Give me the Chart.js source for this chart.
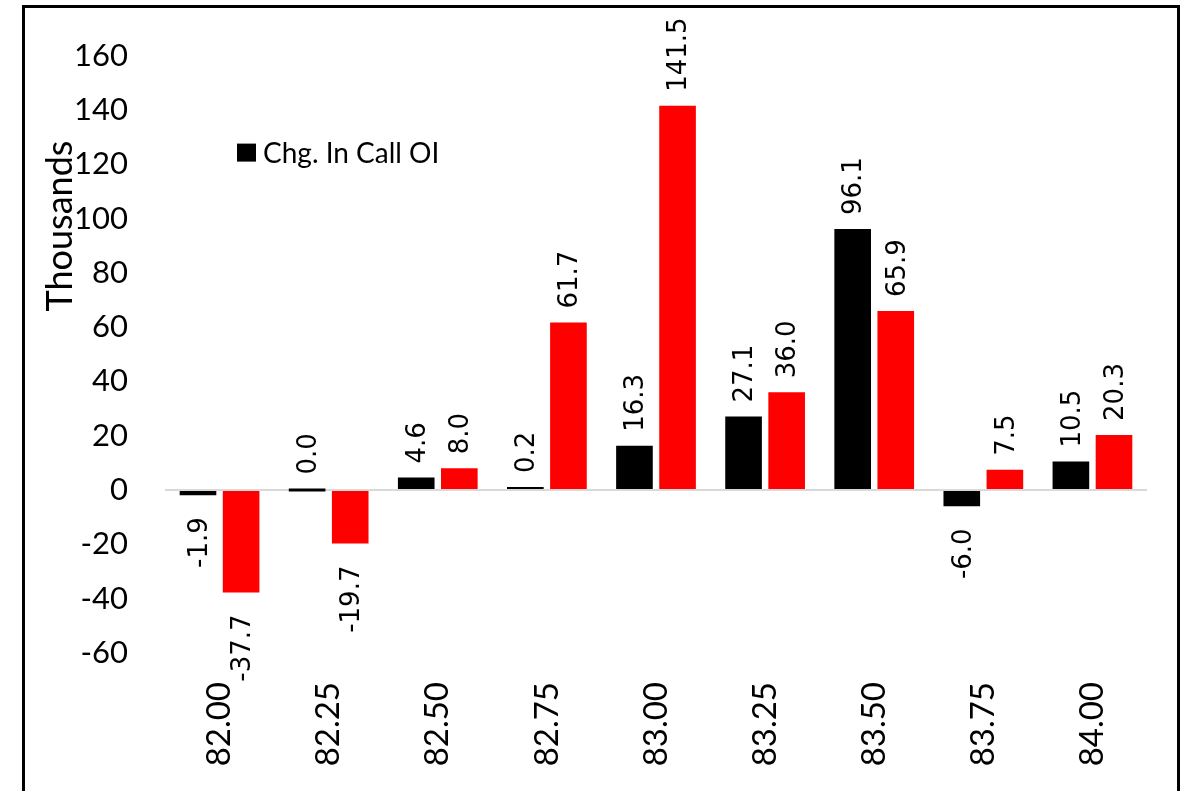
<!DOCTYPE html>
<html>
<head>
<meta charset="utf-8">
<script src="https://cdn.jsdelivr.net/npm/chart.js@4/dist/chart.umd.min.js"></script>
<style>
  html, body { margin: 0; padding: 0; background: #fff; }
  #wrap { position: relative; width: 1185px; height: 791px; overflow: hidden; }
  #frame { position: absolute; left: 22px; top: 5px; width: 1158px; height: 820px; border: 3px solid #000; box-sizing: border-box; pointer-events: none; }
</style>
</head>
<body>
<div id="wrap">
  <canvas id="oiChart"></canvas>
  <div id="frame"></div>
</div>
<script>
// Strike prices and OI change (thousands)
const strikes = ['82.00', '82.25', '82.50', '82.75', '83.00', '83.25', '83.50', '83.75', '84.00'];
const callOI = [-1.9, 0.0, 4.6, 0.2, 16.3, 27.1, 96.1, -6.0, 10.5];
const putOI = [-37.7, -19.7, 8.0, 61.7, 141.5, 36.0, 65.9, 7.5, 20.3];
const seriesNames = ['Chg. In Call OI', 'Chg. In Put OI'];
const yTitle = 'Thousands';

// rotated value labels on each bar
const barLabels = {
  id: 'barLabels',
  afterDatasetsDraw(chart) {
    const ctx = chart.ctx;
    ctx.save();
    ctx.font = '26px "DejaVu Sans"';
    ctx.fillStyle = '#000';
    ctx.textBaseline = 'middle';
    chart.data.datasets.forEach((ds, di) => {
      chart.getDatasetMeta(di).data.forEach((bar, i) => {
        const v = ds.data[i];
        const txt = v.toFixed(1);
        ctx.save();
        if (v >= 0) {
          ctx.translate(bar.x + 2, Math.min(bar.y, bar.base) - 14);
          ctx.rotate(-Math.PI / 2);
          ctx.textAlign = 'left';
        } else {
          ctx.translate(bar.x + 2, bar.y + 22);
          ctx.rotate(-Math.PI / 2);
          ctx.textAlign = 'right';
        }
        ctx.fillText(txt, 0, 0);
        ctx.restore();
      });
    });
    ctx.restore();
  }
};

// legend inside plot (only first series shown) + axis title
const extras = {
  id: 'extras',
  afterDraw(chart) {
    const ctx = chart.ctx;
    const a = chart.chartArea;
    ctx.save();
    ctx.fillStyle = '#000';
    ctx.fillRect(a.left + 72, a.top + 88, 19, 18);
    ctx.font = '28px Lato';
    ctx.textBaseline = 'middle';
    ctx.textAlign = 'left';
    ctx.fillText(seriesNames[0], a.left + 98, a.top + 98);

    ctx.translate(60, 226);
    ctx.rotate(-Math.PI / 2);
    ctx.font = '36px Lato';
    ctx.textAlign = 'center';
    ctx.fillText(yTitle, 0, 0);
    ctx.restore();
  }
};

new Chart(document.getElementById('oiChart'), {
  type: 'bar',
  data: {
    labels: strikes,
    datasets: [
      {
        label: seriesNames[0],
        data: callOI,
        backgroundColor: '#000000',
        categoryPercentage: 0.79,
        barPercentage: 0.85,
        minBarLength: 3
      },
      {
        label: seriesNames[1],
        data: putOI,
        backgroundColor: '#ff0000',
        categoryPercentage: 0.79,
        barPercentage: 0.85,
        minBarLength: 3
      }
    ]
  },
  options: {
    responsive: true,
    maintainAspectRatio: false,
    animation: false,
    layout: { padding: { top: 50, right: 38, left: 0, bottom: 0 } },
    plugins: {
      legend: { display: false },
      tooltip: { enabled: false }
    },
    scales: {
      x: {
        grid: { display: false, drawTicks: false },
        border: { display: false },
        ticks: {
          color: '#000',
          font: { family: 'Lato', size: 33 },
          minRotation: 90,
          maxRotation: 90,
          autoSkip: false,
          padding: 29
        },
        afterFit: s => { s.height = 138; }
      },
      y: {
        min: -60,
        max: 160,
        border: { display: false },
        grid: {
          drawTicks: false,
          color: c => c.tick.value === 0 ? '#d9d9d9' : 'rgba(0,0,0,0)',
          lineWidth: c => c.tick.value === 0 ? 2 : 0
        },
        ticks: {
          stepSize: 20,
          color: '#000',
          font: { family: 'Lato', size: 31 },
          padding: 37
        },
        afterFit: s => { s.width = 165; }
      }
    }
  },
  plugins: [barLabels, extras]
});
</script>
</body>
</html>
